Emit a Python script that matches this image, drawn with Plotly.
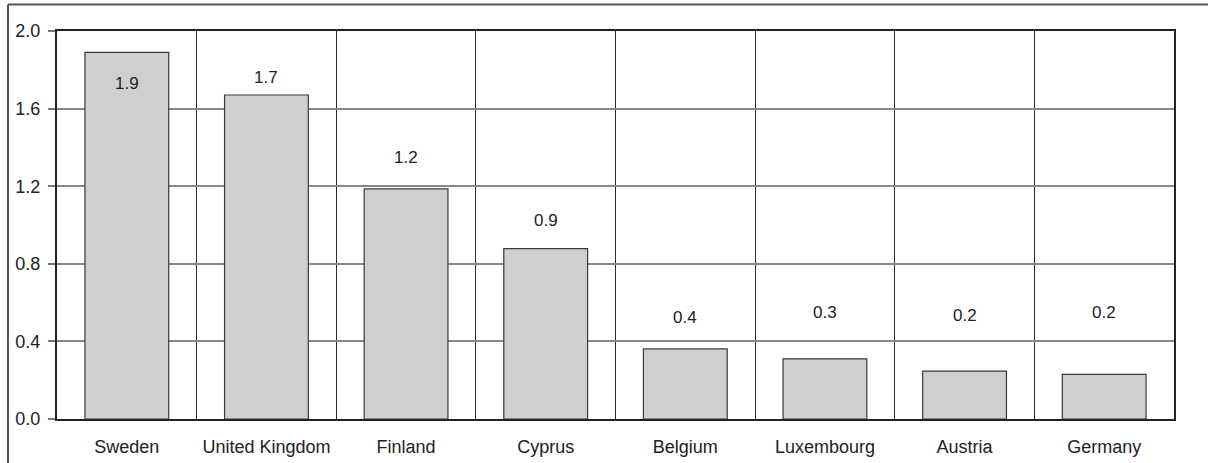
import plotly.graph_objects as go

countries = ["Sweden", "United Kingdom", "Finland", "Cyprus", "Belgium",
             "Luxembourg", "Austria", "Germany"]
values = [1.89, 1.67, 1.186, 0.878, 0.361, 0.31, 0.247, 0.23]
labels = ["1.9", "1.7", "1.2", "0.9", "0.4", "0.3", "0.2", "0.2"]
y_ticks = [0.0, 0.4, 0.8, 1.2, 1.6, 2.0]

# label offsets in pixels relative to bar top (style)
label_shift = [-31, 18, 31, 28, 31, 46, 56, 62]

W, H = 1208, 463
L, R, T, B = 57, 34, 31, 44
FONT = "Liberation Sans, Arial"
FS = 18

fig = go.Figure()
fig.add_trace(go.Bar(
    x=countries, y=values,
    marker=dict(color="#cfcfcf", line=dict(color="#3a3a3a", width=1.2)),
    hoverinfo="skip",
))

for c, v, lab, s in zip(countries, values, labels, label_shift):
    fig.add_annotation(x=c, y=v, text=lab, showarrow=False, yshift=s,
                       font=dict(family=FONT, size=17, color="#222"))

pw = W - L - R
ph = H - T - B
# outer border (top and left only)
fig.add_shape(type="line", xref="paper", yref="paper",
              x0=(8 - L) / pw, x1=(W - L + 5) / pw,
              y0=(H - B - 4.5) / ph, y1=(H - B - 4.5) / ph,
              line=dict(color="#555", width=2))
fig.add_shape(type="line", xref="paper", yref="paper",
              x0=(8 - L) / pw, x1=(8 - L) / pw,
              y0=(H - B - 4.5) / ph, y1=(-B - 5) / ph,
              line=dict(color="#555", width=2))

fig.update_layout(
    width=W, height=H,
    margin=dict(l=L, r=R, t=T, b=B),
    paper_bgcolor="white", plot_bgcolor="white",
    bargap=0.4,
    showlegend=False,
    font=dict(family=FONT, size=FS, color="#222"),
)
fig.update_xaxes(
    type="category", tickson="boundaries", showgrid=True,
    gridcolor="#2a2a2a", gridwidth=1,
    showline=True, linecolor="#222", linewidth=2, mirror=True,
    ticks="", tickfont=dict(family=FONT, size=FS, color="#222"),
    ticklabelstandoff=10, automargin=False,
)
fig.update_yaxes(
    range=[0, 2.0], tickvals=y_ticks, tickformat=".1f",
    showgrid=True, gridcolor="#888", gridwidth=1.5,
    showline=True, linecolor="#222", linewidth=2, mirror=True,
    ticks="outside", ticklen=7, tickcolor="#777", tickwidth=1.5,
    tickfont=dict(family=FONT, size=FS, color="#222"), zeroline=False,
    ticklabelstandoff=4, automargin=False,
)

fig.write_html("out.html")
